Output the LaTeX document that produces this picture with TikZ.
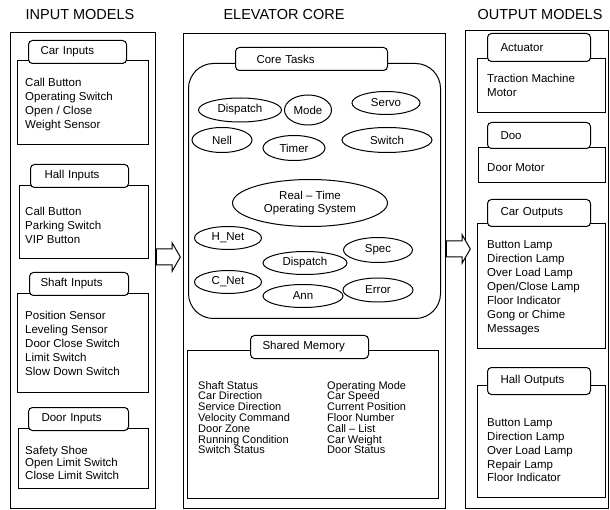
\documentclass[tikz,border=0pt]{standalone}
\usepackage{fontspec}
\setmainfont{Liberation Sans}
\usetikzlibrary{shapes.geometric,shapes.arrows,positioning}
\tikzset{
  outerbox/.style={draw, line width=0.9pt, anchor=north west, inner sep=0pt},
  listbox/.style={draw, line width=1.2pt, anchor=north west, inner sep=0pt},
  tabbox/.style={draw, fill=white, line width=1pt, rounded corners=4pt, anchor=north west, inner ysep=0pt, inner xsep=13pt, align=left, font=\fontsize{11.5}{14}\selectfont},
  taskbox/.style={ellipse, draw, line width=1pt, inner sep=0pt, align=center, font=\fontsize{11.5}{13}\selectfont},
  itemlist/.style={anchor=west, align=left, inner sep=0pt, font=\fontsize{11.5}{14}\selectfont},
  heading/.style={font=\fontsize{14.5}{16}\selectfont},
  blockarrow/.style={single arrow, draw, fill=white, line width=1pt, inner xsep=0pt, inner ysep=7.5pt, single arrow head extend=6pt, single arrow tip angle=120, minimum height=24pt}
}

\begin{document}
\begin{tikzpicture}[x=1pt, y=-1pt]
  \useasboundingbox (0,0) rectangle (610,510);

  % column headings
  \node[heading] (inhead) at (80,15) {INPUT MODELS};
  \node[heading] (corehead) at (284,15) {ELEVATOR CORE};
  \node[heading] (outhead) at (540,15) {OUTPUT MODELS};

  % input models
  \node[outerbox, minimum width=145pt, minimum height=476pt] (inbox) at (10,32) {};
  \node[listbox, minimum width=131pt, minimum height=84pt] (carin) at (17,60) {};
  \node[tabbox, text width=74pt, inner xsep=12pt, minimum height=23pt] (carintab) at (28,40) {Car Inputs};
  \node[itemlist] (carinlist) at (25,105) {Call Button\\Operating Switch\\Open / Close\\Weight Sensor};

  \node[listbox, minimum width=129pt, minimum height=73pt] (hallin) at (19,185) {};
  \node[tabbox, text width=70pt, inner xsep=14pt, minimum height=23pt] (hallintab) at (30,164) {Hall Inputs};
  \node[itemlist] (hallinlist) at (25,225) {Call Button\\Parking Switch\\VIP Button};

  \node[listbox, minimum width=131pt, minimum height=99pt] (shaftin) at (17,293) {};
  \node[tabbox, text width=77pt, inner xsep=11pt, minimum height=23pt] (shaftintab) at (29,272) {Shaft Inputs};
  \node[itemlist] (shaftinlist) at (25,343) {Position Sensor\\Leveling Sensor\\Door Close Switch\\Limit Switch\\Slow Down Switch};

  \node[listbox, minimum width=130pt, minimum height=60pt] (doorin) at (18,428) {};
  \node[tabbox, text width=74pt, minimum height=23pt] (doorintab) at (28,407) {Door Inputs};
  \node[itemlist, font=\fontsize{11.5}{12.5}\selectfont] (doorinlist) at (25,462.5) {Safety Shoe\\Open Limit Switch\\Close Limit Switch};

  % elevator core
  \node[outerbox, minimum width=262pt, minimum height=475pt] (corebox) at (183,33) {};
  \node[draw, line width=1pt, rounded corners=25pt, anchor=north west, minimum width=252pt, minimum height=255pt] (coretasks) at (188,63) {};
  \node[tabbox, text width=110pt, inner xsep=21pt, minimum height=23pt] (coretab) at (235,47) {Core Tasks};

  \node[taskbox, minimum width=83pt, minimum height=24pt] (dispatch) at (240,110) {Dispatch};
  \node[taskbox, minimum width=47pt, minimum height=30pt] (mode) at (308,110) {Mode};
  \node[taskbox, minimum width=68pt, minimum height=23pt] (servo) at (386,103) {Servo};
  \node[taskbox, minimum width=60pt, minimum height=25pt] (nell) at (222,140) {Nell};
  \node[taskbox, minimum width=62pt, minimum height=25pt] (timer) at (294,148) {Timer};
  \node[taskbox, minimum width=90pt, minimum height=25pt] (switch) at (387,140) {Switch};
  \node[taskbox, minimum width=155pt, minimum height=47pt] (rtos) at (310,203) {Real -- Time\\Operating System};
  \node[taskbox, minimum width=67pt, minimum height=23pt] (hnet) at (228,238) {H\_Net};
  \node[taskbox, minimum width=69pt, minimum height=25pt] (spec) at (378,250) {Spec};
  \node[taskbox, minimum width=84pt, minimum height=23pt] (dispatchb) at (305,263) {Dispatch};
  \node[taskbox, minimum width=67pt, minimum height=23pt] (cnet) at (228,282) {C\_Net};
  \node[taskbox, minimum width=80pt, minimum height=23pt] (ann) at (303,296) {Ann};
  \node[taskbox, minimum width=70pt, minimum height=24pt] (error) at (378,290) {Error};

  \node[listbox, minimum width=251pt, minimum height=148pt] (memory) at (187,350) {};
  \node[tabbox, text width=94pt, inner xsep=12pt, minimum height=23pt] (memtab) at (250,335) {Shared Memory};
  \node[itemlist, font=\fontsize{11}{10.8}\selectfont] (memleft) at (198,417.5) {Shaft Status\\Car Direction\\Service Direction\\Velocity Command\\Door Zone\\Running Condition\\Switch Status};
  \node[itemlist, font=\fontsize{11}{10.8}\selectfont] (memright) at (327,417.5) {Operating Mode\\Car Speed\\Current Position\\Floor Number\\Call -- List\\Car Weight\\Door Status};

  % output models
  \node[outerbox, minimum width=143pt, minimum height=478pt] (outbox) at (465,30) {};
  \node[listbox, minimum width=128pt, minimum height=54pt] (actuator) at (477,58) {};
  \node[tabbox, text width=77pt, minimum height=28pt] (actuatortab) at (487,33) {Actuator};
  \node[itemlist] (actuatorlist) at (487,85) {Traction Machine\\Motor};

  \node[listbox, minimum width=127pt, minimum height=35pt] (doorout) at (478,147) {};
  \node[tabbox, text width=77pt, minimum height=26pt] (doorouttab) at (487,122) {Doo};
  \node[itemlist] (dooroutlist) at (487,168) {Door Motor};

  \node[listbox, minimum width=128pt, minimum height=125pt] (carout) at (477,223) {};
  \node[tabbox, text width=77pt, minimum height=27pt] (carouttab) at (487,199) {Car Outputs};
  \node[itemlist] (caroutlist) at (487,288) {Button Lamp\\Direction Lamp\\Over Load Lamp\\Open/Close Lamp\\Floor Indicator\\Gong or Chime\\Messages};

  \node[listbox, minimum width=128pt, minimum height=112pt] (hallout) at (477,385) {};
  \node[tabbox, text width=77pt, minimum height=27pt] (hallouttab) at (487,367) {Hall Outputs};
  \node[itemlist, font=\fontsize{11.5}{13.75}\selectfont] (halloutlist) at (487,450.5) {Button Lamp\\Direction Lamp\\Over Load Lamp\\Repair Lamp\\Floor Indicator};

  % flow between the columns
  \node[blockarrow] (inarrow) at (166,257) {};
  \node[blockarrow] (outarrow) at (456,249) {};
\end{tikzpicture}
\end{document}
